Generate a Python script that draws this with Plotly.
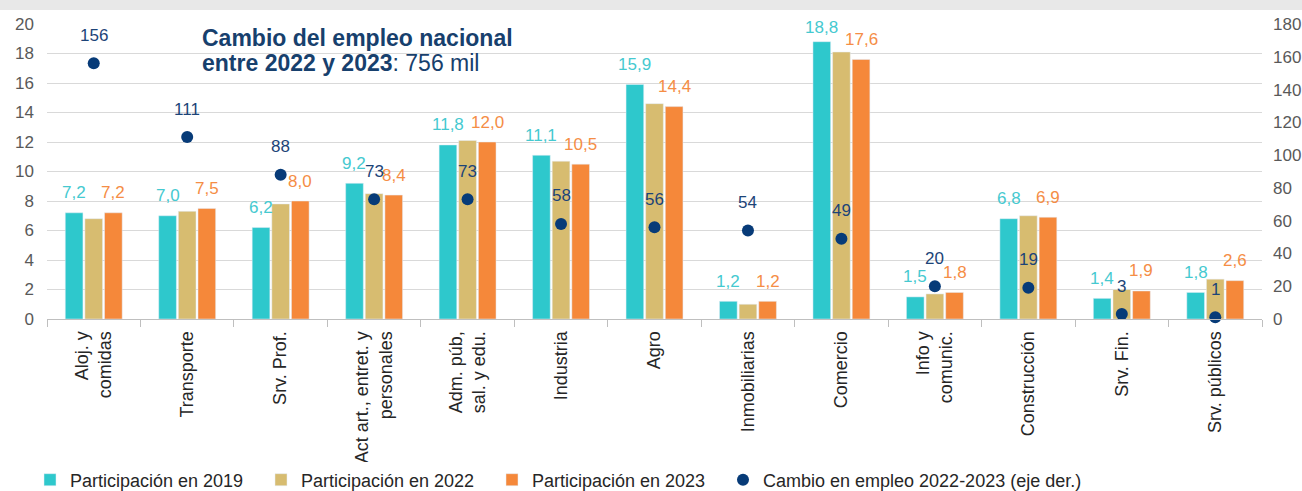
import plotly.graph_objects as go

categories = [
    "Aloj. y<br>comidas", "Transporte", "Srv. Prof.", "Act art., entret. y<br>personales",
    "Adm. púb,<br>sal. y edu.", "Industria", "Agro", "Inmobiliarias", "Comercio",
    "Info y<br>comunic.", "Construcción", "Srv. Fin.", "Srv. públicos",
]
part_2019 = [7.2, 7.0, 6.2, 9.2, 11.8, 11.1, 15.9, 1.2, 18.8, 1.5, 6.8, 1.4, 1.8]
part_2022 = [6.8, 7.3, 7.8, 8.5, 12.1, 10.7, 14.6, 1.0, 18.1, 1.7, 7.0, 2.0, 2.7]
part_2023 = [7.2, 7.5, 8.0, 8.4, 12.0, 10.5, 14.4, 1.2, 17.6, 1.8, 6.9, 1.9, 2.6]
cambio = [156, 111, 88, 73, 73, 58, 56, 54, 49, 20, 19, 3, 1]

TEAL = "#2EC8CC"
TAN = "#D7BC70"
ORANGE = "#F5883A"
NAVY = "#073B78"
FONT = "Liberation Sans, Arial"

W, H = 1302, 491
ML, MR, MT, MB = 47, 40, 24, 172
PW = W - ML - MR
PH = H - MT - MB
BARGAP, GROUPGAP = 0.37, 0.1
slot = PW / len(categories) * (1 - BARGAP) / 3  # px width of one bar slot

fig = go.Figure()
fig.add_bar(x=categories, y=part_2019, name="Participación en 2019", marker_color=TEAL)
fig.add_bar(x=categories, y=part_2022, name="Participación en 2022", marker_color=TAN)
fig.add_bar(x=categories, y=part_2023, name="Participación en 2023", marker_color=ORANGE)
fig.add_scatter(x=categories, y=cambio, name="Cambio en empleo 2022-2023 (eje der.)",
                mode="markers", yaxis="y2", marker=dict(color=NAVY, size=12),
                cliponaxis=False, legend="legend2")

# data labels
for vals, shift, col in [(part_2019, -slot, "#45C9D0"), (part_2023, slot, "#F58D45")]:
    for c, v in zip(categories, vals):
        fig.add_annotation(x=c, y=v, text=f"{v:.1f}".replace(".", ","), showarrow=False,
                           xshift=shift, yshift=20 if v < 18 else 14,
                           font=dict(color=col, size=17, family=FONT))
for c, v in zip(categories, cambio):
    fig.add_annotation(x=c, y=v, yref="y2", text=str(v), showarrow=False, yshift=28,
                       font=dict(color="#1C4478", size=17, family=FONT))

fig.add_annotation(xref="paper", yref="paper", x=(200 - ML) / PW, y=1 - (38 - MT) / PH,
                   xanchor="left", yanchor="middle", showarrow=False,
                   text="<b>Cambio del empleo nacional</b>",
                   font=dict(color="#17406D", size=23, family=FONT))
fig.add_annotation(xref="paper", yref="paper", x=(200 - ML) / PW, y=1 - (63 - MT) / PH,
                   xanchor="left", yanchor="middle", showarrow=False,
                   text="<b>entre 2022 y 2023</b>: 756 mil",
                   font=dict(color="#17406D", size=23, family=FONT))

# grey band at the top of the image
fig.add_shape(type="rect", xref="paper", yref="paper", x0=-0.05, x1=1.05,
              y0=1 + (MT - 10) / PH, y1=1.2, fillcolor="#E8E8E8", line_width=0, layer="below")

leg_y = -(480 - (MT + PH)) / PH
leg_x = (30 - ML) / PW
fig.update_layout(
    width=W, height=H,
    margin=dict(l=ML, r=MR, t=MT, b=MB, autoexpand=False),
    paper_bgcolor="white", plot_bgcolor="white",
    barmode="group", bargap=BARGAP, bargroupgap=GROUPGAP,
    font=dict(family=FONT, color="#262626"),
    showlegend=True,
    legend=dict(orientation="h", x=leg_x, y=leg_y, xanchor="left", yanchor="middle",
                entrywidth=186, entrywidthmode="pixels",
                font=dict(size=18, family=FONT, color="#262626")),
    legend2=dict(orientation="h", x=leg_x + 3 * 231 / PW, y=leg_y, xanchor="left",
                 yanchor="middle", font=dict(size=18, family=FONT, color="#262626")),
    xaxis=dict(categoryorder="array", categoryarray=categories, tickangle=-90,
               range=[-0.5, len(categories) - 0.5],
               ticks="outside", tickson="boundaries", ticklen=7, tickcolor="#BFBFBF",
               showline=True, linecolor="#BFBFBF", linewidth=1, ticklabelstandoff=4,
               tickfont=dict(size=18, family=FONT, color="#262626")),
    yaxis=dict(range=[0, 20], dtick=2, showgrid=True, gridcolor="#D9D9D9", gridwidth=1,
               zeroline=False, tickfont=dict(size=17, family=FONT, color="#595959"),
               ticklabelstandoff=12),
    yaxis2=dict(range=[0, 180], dtick=20, overlaying="y", side="right", showgrid=False,
                zeroline=False, tickfont=dict(size=17, family=FONT, color="#595959"),
                ticklabelstandoff=10),
)

# the page's default body margin would offset the whole figure
fig.write_html("out.html", config={"displayModeBar": False},
               post_script="document.body.style.margin = '0';")
